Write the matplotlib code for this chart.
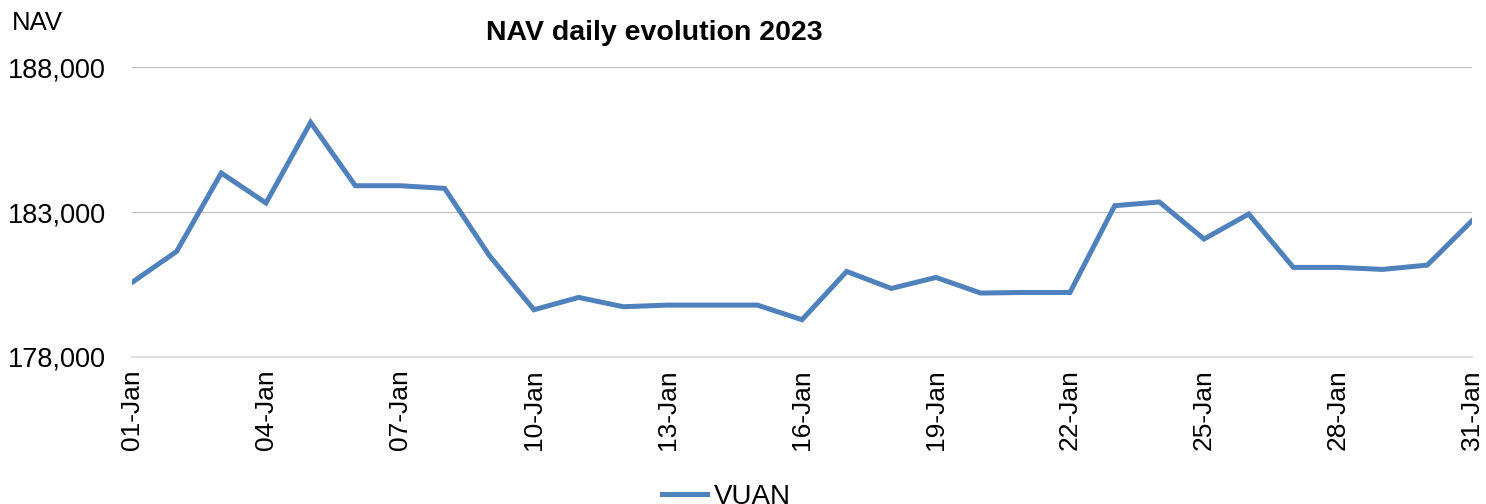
import numpy as np
import matplotlib
matplotlib.use("Agg")
import matplotlib.pyplot as plt
from matplotlib.ticker import FuncFormatter

# data (January 2023, daily NAV)
days = list(range(1, 32))
day_labels = [f"{d:02d}-Jan" for d in days]
nav = [180570, 181640, 184345, 183310, 186090, 183907, 183907, 183815,
       181500, 179630, 180054, 179733, 179790, 179790, 179790, 179285,
       180950, 180364, 180744, 180205, 180225, 180225, 183217, 183345,
       182068, 182930, 181090, 181090, 181020, 181170, 182700]
y_ticks = [178000, 183000, 188000]
series_name = "VUAN"

plt.rcParams["font.family"] = ["Liberation Sans", "DejaVu Sans"]

fig = plt.figure(figsize=(14.86, 5.04), dpi=100)
ax = fig.add_axes([0.0888, 0.2917, 0.9018, 0.5753])

line, = ax.plot(days, nav, color="#4F81BD", linewidth=3.6,
                solid_joinstyle="miter", label=series_name)

ax.set_xlim(days[0], days[-1])
ax.set_ylim(y_ticks[0], y_ticks[-1])
ax.set_yticks(y_ticks)
ax.yaxis.set_major_formatter(FuncFormatter(lambda v, p: f"{v:,.0f}"))
ax.set_xticks(days[::3])
ax.set_xticklabels(day_labels[::3], rotation=90)

ax.grid(True, axis="y", color="#BFBFBF", linewidth=0.9)
ax.set_axisbelow(True)
for side in ["top", "right", "left"]:
    ax.spines[side].set_visible(False)
ax.spines["bottom"].set_color("#D9D9D9")
ax.spines["bottom"].set_linewidth(1.2)

ax.tick_params(axis="y", length=0, pad=19, labelsize=19.5)
ax.tick_params(axis="x", length=0, pad=9, labelsize=19)

fig.text(0.44, 0.935, "NAV daily evolution 2023", fontsize=20.5,
         fontweight="bold", ha="center", va="center")
fig.text(0.008, 0.955, "NAV", fontsize=18.5, ha="left", va="center")

fig.legend(handles=[line], loc="center", bbox_to_anchor=(0.489, 0.014),
           frameon=False, fontsize=20, handlelength=1.6, handletextpad=0.25)

fig.savefig("out.png", dpi=100)
